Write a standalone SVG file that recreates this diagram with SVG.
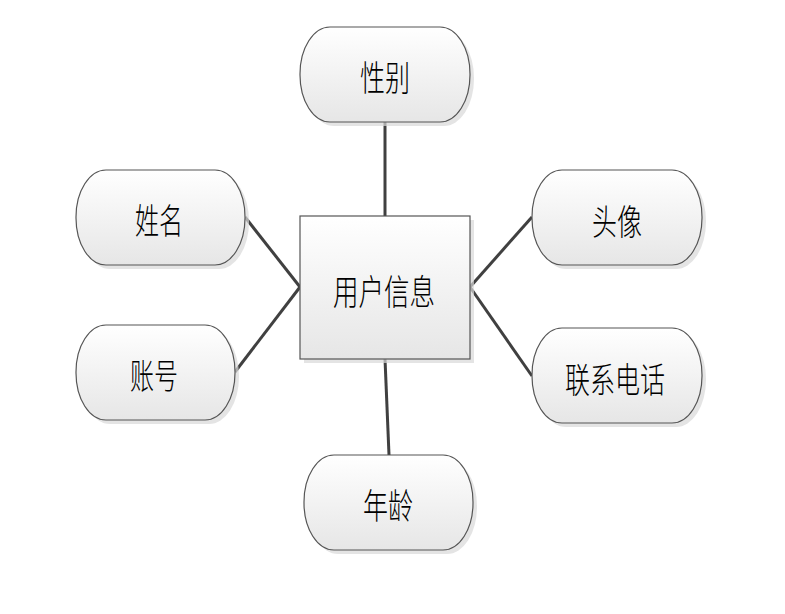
<svg xmlns="http://www.w3.org/2000/svg" width="785" height="614" viewBox="0 0 785 614">
<defs>
<linearGradient id="g" x1="0" y1="0" x2="0" y2="1">
<stop offset="0" stop-color="#ffffff"/>
<stop offset="1" stop-color="#e6e6e6"/>
</linearGradient>
<style>
.sh{fill:#d9d9d9;opacity:0.7}
.n{fill:url(#g);stroke:#555555;stroke-width:1.2}
.t{font-family:"Noto Sans CJK SC","Noto Sans CJK JP",sans-serif;font-size:35px;font-weight:300;fill:#000000;text-anchor:middle;dominant-baseline:central}
.c{stroke:#404040;stroke-width:3;fill:none}
</style>
</defs>
<rect width="785" height="614" fill="#ffffff"/>
<g id="connectors">
<line class="c" x1="385" y1="122" x2="385" y2="216"/>
<line class="c" x1="245" y1="217" x2="300" y2="287"/>
<line class="c" x1="235" y1="372" x2="300" y2="287"/>
<line class="c" x1="532" y1="217" x2="470" y2="287"/>
<line class="c" x1="532" y1="376" x2="470" y2="287"/>
<line class="c" x1="385" y1="359" x2="389" y2="455"/>
</g>
<g id="node-gender">
<rect class="sh" x="304" y="31" width="170" height="95" rx="30" ry="47"/>
<rect class="n" x="300" y="27" width="170" height="95" rx="30" ry="47"/>
<text class="t" x="385" y="75" textLength="50" lengthAdjust="spacingAndGlyphs">性别</text>
</g>
<g id="node-user">
<rect class="sh" x="304" y="220" width="170" height="143"/>
<rect class="n" x="300" y="216" width="170" height="143"/>
<text class="t" x="384" y="289" textLength="102" lengthAdjust="spacingAndGlyphs">用户信息</text>
</g>
<g id="node-name">
<rect class="sh" x="80" y="174" width="169" height="95" rx="30" ry="47"/>
<rect class="n" x="76" y="170" width="169" height="95" rx="30" ry="47"/>
<text class="t" x="159" y="218" textLength="48" lengthAdjust="spacingAndGlyphs">姓名</text>
</g>
<g id="node-account">
<rect class="sh" x="80" y="329" width="159" height="95" rx="30" ry="47"/>
<rect class="n" x="76" y="325" width="159" height="95" rx="30" ry="47"/>
<text class="t" x="154" y="373" textLength="48" lengthAdjust="spacingAndGlyphs">账号</text>
</g>
<g id="node-avatar">
<rect class="sh" x="536" y="174" width="170" height="95" rx="30" ry="47"/>
<rect class="n" x="532" y="170" width="170" height="95" rx="30" ry="47"/>
<text class="t" x="617" y="219" textLength="50" lengthAdjust="spacingAndGlyphs">头像</text>
</g>
<g id="node-phone">
<rect class="sh" x="536" y="332" width="170" height="95" rx="30" ry="47"/>
<rect class="n" x="532" y="328" width="170" height="95" rx="30" ry="47"/>
<text class="t" x="615" y="377" textLength="100" lengthAdjust="spacingAndGlyphs">联系电话</text>
</g>
<g id="node-age">
<rect class="sh" x="308" y="459" width="169" height="95" rx="30" ry="47"/>
<rect class="n" x="304" y="455" width="169" height="95" rx="30" ry="47"/>
<text class="t" x="388" y="503" textLength="50" lengthAdjust="spacingAndGlyphs">年龄</text>
</g>
</svg>
